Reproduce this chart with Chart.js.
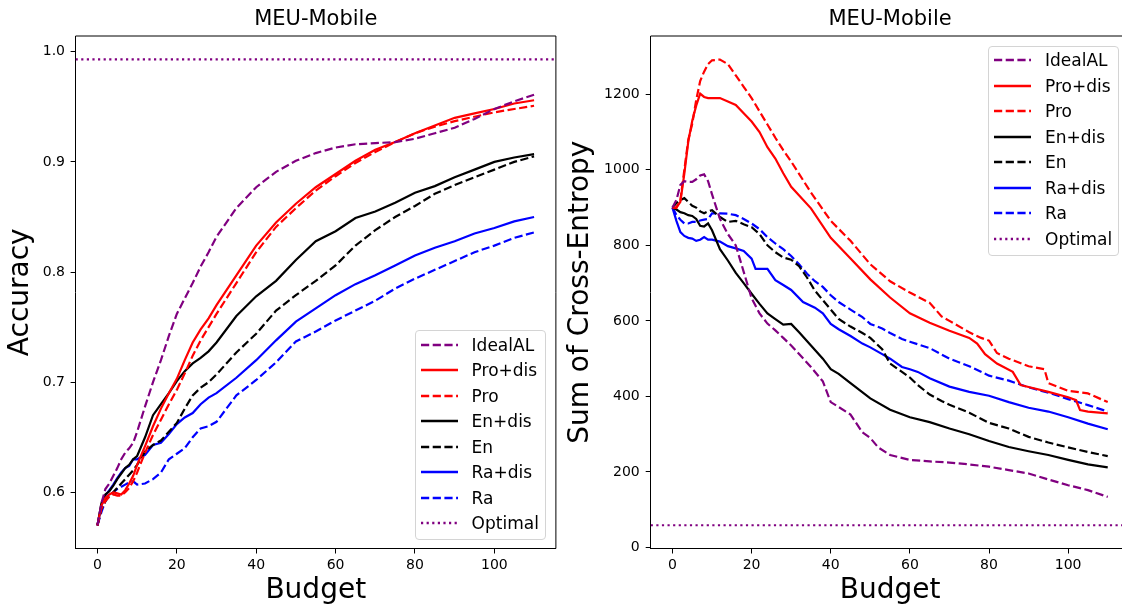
<!DOCTYPE html>
<html>
<head>
<meta charset="utf-8">
<script src="https://cdn.jsdelivr.net/npm/chart.js@4/dist/chart.umd.min.js"></script>
<style>
  html, body { margin: 0; padding: 0; background: #fff; overflow: hidden; }
  #wrap { position: relative; width: 1122px; height: 605px; overflow: hidden; }
  canvas { position: absolute; top: 0; }
  .legend {
    position: absolute; box-sizing: border-box; width: 131px; padding-top: 1px;
    background: rgba(255,255,255,0.8); border: 1px solid #d4d4d4; border-radius: 4px;
    font-family: "DejaVu Sans", sans-serif; font-size: 17px; color: #000;
  }
  .legend .row { display: flex; align-items: center; height: 25.5px; }
  .legend svg { margin-left: 5px; margin-right: 14px; }
</style>
</head>
<body>
<div id="wrap">
  <canvas id="accChart" width="560" height="605" style="left:0px"></canvas>
  <canvas id="ceChart" width="574" height="605" style="left:560px"></canvas>
</div>
<script>
// series (same order in both panels)
const seriesNames = ['IdealAL', 'Pro+dis', 'Pro', 'En+dis', 'En', 'Ra+dis', 'Ra', 'Optimal'];
const seriesColors = ['#800080', '#ff0000', '#ff0000', '#000000', '#000000', '#0000ff', '#0000ff', '#800080'];
const seriesStyles = ['dashed', 'solid', 'dashed', 'solid', 'dashed', 'solid', 'dashed', 'dotted'];

// left panel: accuracy vs budget
const budget = [0, 1, 2, 3, 4, 5, 6, 7, 8, 9, 10, 12, 14, 16, 18, 20, 22, 24, 26, 28, 30,
  35, 40, 45, 50, 55, 60, 65, 70, 75, 80, 85, 90, 95, 100, 105, 110];
const accIdealAL = [0.570, 0.590, 0.603, 0.608, 0.615, 0.622, 0.630, 0.636, 0.640, 0.645, 0.655,
  0.678, 0.700, 0.720, 0.742, 0.762, 0.776, 0.790, 0.805, 0.818, 0.832,
  0.858, 0.877, 0.891, 0.901, 0.908, 0.913, 0.916, 0.917, 0.918, 0.921, 0.926, 0.931, 0.939, 0.948, 0.955, 0.961];
const accProDis = [0.570, 0.588, 0.595, 0.598, 0.600, 0.599, 0.598, 0.602, 0.608, 0.615, 0.625,
  0.642, 0.660, 0.676, 0.690, 0.703, 0.720, 0.736, 0.748, 0.758, 0.770,
  0.797, 0.824, 0.845, 0.862, 0.877, 0.889, 0.901, 0.911, 0.918, 0.926, 0.933, 0.940, 0.944, 0.948, 0.953, 0.956];
const accPro = [0.570, 0.585, 0.592, 0.596, 0.598, 0.597, 0.597, 0.600, 0.604, 0.610, 0.618,
  0.636, 0.652, 0.666, 0.680, 0.693, 0.708, 0.724, 0.738, 0.750, 0.762,
  0.790, 0.818, 0.841, 0.858, 0.874, 0.887, 0.899, 0.909, 0.918, 0.926, 0.932, 0.937, 0.941, 0.945, 0.948, 0.951];
const accEnDis = [0.570, 0.590, 0.598, 0.601, 0.606, 0.612, 0.617, 0.622, 0.625, 0.630, 0.633,
  0.650, 0.670, 0.680, 0.690, 0.701, 0.710, 0.717, 0.722, 0.728, 0.736,
  0.760, 0.778, 0.792, 0.811, 0.828, 0.837, 0.849, 0.855, 0.863, 0.872, 0.878, 0.886, 0.893, 0.900, 0.904, 0.907];
const accEn = [0.570, 0.585, 0.592, 0.597, 0.600, 0.604, 0.608, 0.612, 0.616, 0.620, 0.625,
  0.637, 0.643, 0.647, 0.655, 0.663, 0.676, 0.688, 0.695, 0.700, 0.707,
  0.727, 0.744, 0.765, 0.779, 0.792, 0.806, 0.824, 0.838, 0.850, 0.860, 0.871, 0.879, 0.886, 0.893, 0.900, 0.905];
const accRaDis = [0.570, 0.588, 0.597, 0.602, 0.607, 0.613, 0.618, 0.622, 0.624, 0.630, 0.630,
  0.634, 0.643, 0.645, 0.653, 0.662, 0.668, 0.672, 0.680, 0.686, 0.690,
  0.704, 0.720, 0.738, 0.755, 0.767, 0.779, 0.789, 0.797, 0.806, 0.815, 0.822, 0.828, 0.835, 0.840, 0.846, 0.850];
const accRa = [0.570, 0.582, 0.592, 0.597, 0.600, 0.603, 0.605, 0.607, 0.609, 0.610, 0.607,
  0.608, 0.612, 0.618, 0.630, 0.635, 0.640, 0.650, 0.658, 0.660, 0.664,
  0.688, 0.702, 0.718, 0.737, 0.746, 0.756, 0.765, 0.774, 0.785, 0.794, 0.802, 0.810, 0.818, 0.824, 0.831, 0.836];
const accOptimal = 0.993;

// right panel: sum of cross-entropy vs budget (each curve read at its own budgets)
const ceIdealX = [0, 1, 2, 3, 4, 5, 6, 7, 8, 9, 10, 12, 14, 16, 18, 20, 22, 24, 26, 28, 30,
  35, 38, 40, 42, 45, 48, 50, 52, 55, 60, 65, 70, 75, 80, 85, 90, 95, 100, 105, 110];
const ceIdealY = [900, 920, 960, 970, 968, 968, 975, 985, 988, 970, 935, 870, 830, 800, 730, 660, 620, 593, 575, 555, 535,
  478, 440, 385, 372, 352, 305, 290, 265, 245, 232, 228, 225, 220, 214, 205, 196, 180, 165, 152, 134];
const ceProDisX = [0, 1, 2, 3, 4, 5, 6, 7, 8, 9, 10, 12, 14, 16, 18, 20, 22, 24, 26, 28, 30,
  35, 40, 45, 50, 55, 60, 65, 70, 75, 77, 79, 82, 86, 88, 90, 95, 100, 102, 103, 105, 110];
const ceProDisY = [900, 900, 915, 990, 1075, 1130, 1170, 1202, 1193, 1190, 1190, 1190, 1181, 1172, 1150, 1128, 1100, 1060, 1030, 991, 955,
  898, 820, 765, 710, 662, 620, 595, 574, 555, 540, 512, 487, 465, 430, 425, 412, 398, 390, 364, 360, 355];
const ceProX = [0, 1, 2, 3, 4, 5, 6, 7, 8, 9, 10, 12, 14, 16, 18, 20, 22, 24, 26, 28, 30,
  35, 40, 45, 50, 55, 60, 65, 68, 70, 75, 78, 80, 82, 85, 90, 94, 95, 100, 105, 110];
const ceProY = [900, 900, 920, 1000, 1080, 1122, 1185, 1235, 1260, 1280, 1290, 1292, 1280, 1250, 1220, 1190, 1155, 1120, 1085, 1052, 1022,
  940, 865, 812, 750, 705, 675, 648, 612, 600, 570, 555, 548, 515, 500, 480, 472, 435, 415, 408, 385];
const ceEnDisX = [0, 1, 2, 3, 4, 5, 6, 7, 8, 9, 10, 12, 14, 16, 18, 20, 22, 24, 26, 28, 30,
  32, 35, 38, 40, 42, 45, 50, 55, 60, 65, 70, 75, 80, 85, 90, 95, 100, 105, 110];
const ceEnDisY = [900, 895, 888, 885, 880, 878, 870, 852, 850, 858, 840, 790, 760, 727, 700, 672, 645, 620, 605, 590, 592,
  570, 535, 500, 472, 460, 435, 395, 365, 345, 332, 315, 300, 282, 266, 255, 245, 232, 220, 212];
const ceEnX = [0, 1, 2, 3, 4, 5, 6, 7, 8, 9, 10, 12, 14, 16, 18, 20, 22, 24, 26, 28, 30,
  32, 34, 36, 38, 40, 42, 45, 48, 50, 53, 55, 58, 60, 62, 65, 68, 70, 75, 80, 85, 90, 95, 100, 105, 110];
const ceEnY = [900, 912, 920, 925, 915, 905, 900, 890, 885, 890, 893, 875, 862, 865, 856, 848, 830, 800, 782, 768, 762,
  745, 715, 680, 655, 630, 605, 585, 568, 555, 525, 487, 465, 450, 430, 405, 388, 378, 357, 330, 315, 293, 278, 265, 253, 242];
const ceRaDisX = [0, 1, 2, 3, 4, 5, 6, 7, 8, 9, 10, 12, 14, 16, 18, 20, 21, 24, 26, 28, 30,
  33, 36, 38, 40, 42, 45, 48, 50, 53, 55, 58, 60, 62, 65, 70, 75, 80, 85, 90, 95, 100, 105, 110];
const ceRaDisY = [900, 865, 835, 825, 820, 818, 812, 815, 822, 815, 815, 810, 798, 792, 785, 765, 738, 738, 708, 695, 682,
  650, 635, 620, 592, 578, 560, 540, 530, 512, 500, 478, 472, 465, 448, 426, 412, 402, 385, 370, 360, 345, 328, 313];
const ceRaX = [0, 1, 2, 3, 4, 5, 6, 7, 8, 9, 10, 12, 14, 16, 18, 20, 22, 24, 26, 28, 30,
  32, 34, 36, 38, 40, 42, 45, 48, 50, 53, 55, 58, 60, 65, 70, 75, 80, 85, 90, 95, 100, 105, 110];
const ceRaY = [900, 880, 868, 858, 858, 862, 862, 866, 868, 870, 885, 885, 884, 880, 870, 858, 843, 822, 805, 790, 772,
  750, 725, 705, 690, 668, 650, 630, 610, 592, 580, 568, 552, 545, 528, 500, 480, 455, 442, 424, 410, 393, 377, 360];
const ceOptimal = 59;

// axis limits and ticks
const xMin = -5.5, xMax = 115.5;
const accMin = 0.549, accMax = 1.0143;
const ceMin = -2.6, ceMax = 1354.4;

Chart.defaults.font.family = "'DejaVu Sans', sans-serif";
Chart.defaults.color = '#000';

function dashFor(style) {
  if (style === 'dashed') return [8.2, 3.5];
  if (style === 'dotted') return [2.2, 3.4];
  return [];
}

function toPoints(xs, ys) {
  return xs.map((x, i) => ({ x: x, y: ys[i] }));
}

function makeDatasets(pointLists) {
  return pointLists.map((pts, i) => ({
    label: seriesNames[i],
    data: pts,
    borderColor: seriesColors[i],
    backgroundColor: seriesColors[i],
    borderWidth: 2.2,
    borderDash: dashFor(seriesStyles[i]),
    borderCapStyle: 'butt',
    pointRadius: 0,
    tension: 0,
    fill: false
  }));
}

// top and right spines
const framePlugin = {
  id: 'frame',
  afterDatasetsDraw(chart) {
    const a = chart.chartArea, ctx = chart.ctx;
    ctx.save();
    ctx.strokeStyle = '#000';
    ctx.lineWidth = 1;
    ctx.beginPath();
    ctx.moveTo(a.left, a.top);
    ctx.lineTo(a.right, a.top);
    ctx.lineTo(a.right, a.bottom);
    ctx.stroke();
    ctx.restore();
  }
};

function makeOptions(yMin, yMax, yStep, yLabel, yWidth, yFmt, padRight, yPad) {
  return {
    responsive: false,
    animation: false,
    devicePixelRatio: 1,
    layout: { padding: { left: 0, right: padRight, top: 0, bottom: 0 } },
    plugins: {
      legend: { display: false },
      tooltip: { enabled: false },
      title: {
        display: true, text: 'MEU-Mobile', fullSize: false, color: '#000',
        font: { size: 21, weight: 'normal' }, padding: { top: 7, bottom: 3.8 }
      }
    },
    scales: {
      x: {
        type: 'linear', min: xMin, max: xMax,
        ticks: { stepSize: 20, includeBounds: false, font: { size: 14 }, color: '#000', padding: 3, maxRotation: 0 },
        grid: { drawOnChartArea: false, drawTicks: true, tickLength: 5, tickColor: '#000' },
        border: { display: true, color: '#000', width: 1 },
        title: { display: true, text: 'Budget', color: '#000', font: { size: 28, lineHeight: 1 }, padding: { top: 0, bottom: 0 } },
        afterFit: s => { s.height = 56.5; }
      },
      y: {
        type: 'linear', min: yMin, max: yMax,
        ticks: { stepSize: yStep, includeBounds: false, font: { size: 14 }, color: '#000', padding: yPad, callback: yFmt },
        grid: { drawOnChartArea: false, drawTicks: true, tickLength: 5, tickColor: '#000' },
        border: { display: true, color: '#000', width: 1 },
        title: { display: true, text: yLabel, color: '#000', font: { size: 28, lineHeight: 1 }, padding: { top: 7, bottom: 0 } },
        afterFit: s => { s.width = yWidth; }
      }
    }
  };
}

function buildLegend(left, top) {
  const box = document.createElement('div');
  box.className = 'legend';
  box.style.left = left + 'px';
  box.style.top = top + 'px';
  seriesNames.forEach((name, i) => {
    const row = document.createElement('div');
    row.className = 'row';
    const dash = dashFor(seriesStyles[i]).join(' ');
    row.innerHTML = '<svg width="37" height="6"><line x1="0" y1="3" x2="37" y2="3" stroke="' + seriesColors[i] +
      '" stroke-width="2.4"' + (dash ? ' stroke-dasharray="' + dash + '"' : '') + '/></svg><span>' + name + '</span>';
    box.appendChild(row);
  });
  box.style.height = '210px';
  document.getElementById('wrap').appendChild(box);
}

// left chart
const accLines = [accIdealAL, accProDis, accPro, accEnDis, accEn, accRaDis, accRa].map(ys => toPoints(budget, ys));
accLines.push([{ x: xMin, y: accOptimal }, { x: xMax, y: accOptimal }]);
const accChart = new Chart(document.getElementById('accChart'), {
  type: 'line',
  data: { datasets: makeDatasets(accLines) },
  options: makeOptions(accMin, accMax, 0.1, 'Accuracy', 75.6, v => v.toFixed(1), 4.1, 5.6),
  plugins: [framePlugin]
});

// right chart
const ceLines = [
  toPoints(ceIdealX, ceIdealY), toPoints(ceProDisX, ceProDisY), toPoints(ceProX, ceProY),
  toPoints(ceEnDisX, ceEnDisY), toPoints(ceEnX, ceEnY), toPoints(ceRaDisX, ceRaDisY), toPoints(ceRaX, ceRaY),
  [{ x: xMin, y: ceOptimal }, { x: xMax, y: ceOptimal }]
];
const ceChart = new Chart(document.getElementById('ceChart'), {
  type: 'line',
  data: { datasets: makeDatasets(ceLines) },
  options: makeOptions(ceMin, ceMax, 200, 'Sum of Cross-Entropy', 90.7, v => String(v), 4.5, 6),
  plugins: [framePlugin]
});

// legends placed inside the plot areas (lower right / upper right)
const a1 = accChart.chartArea;
buildLegend(a1.right - 10.3 - 131, a1.bottom - 8.5 - 210);
const a2 = ceChart.chartArea;
buildLegend(560 + a2.right - 10.5 - 131, a2.top + 9.7);
</script>
</body>
</html>
